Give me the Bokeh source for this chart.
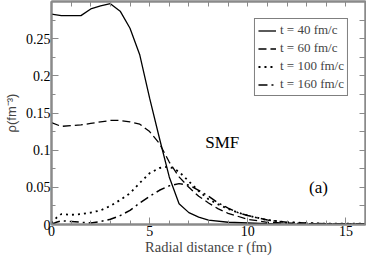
from bokeh.plotting import figure
from bokeh.models import LinearAxis, FixedTicker, Range1d, Label, Legend, LegendItem, CustomJSTickFormatter
from bokeh.embed import file_html
from bokeh.resources import INLINE

# ---- data ----
r40 = [0, 0.5, 1, 1.5, 2, 2.5, 3, 3.5, 4, 4.5, 5, 5.5, 6, 6.5, 7, 7.5, 8, 9, 10, 11, 12, 16]
rho40 = [0.283, 0.281, 0.281, 0.281, 0.290, 0.294, 0.297, 0.287, 0.264, 0.228, 0.170, 0.116,
         0.064, 0.028, 0.016, 0.010, 0.006, 0.003, 0.002, 0.001, 0.0, 0.0]

r60 = [0, 0.5, 1, 1.5, 2, 2.5, 3, 3.5, 4, 4.5, 5, 5.5, 6, 6.5, 7, 7.5, 8, 8.5, 9, 10, 11, 12, 13, 14, 16]
rho60 = [0.137, 0.132, 0.133, 0.134, 0.136, 0.138, 0.140, 0.140, 0.138, 0.135, 0.125, 0.109,
         0.084, 0.064, 0.050, 0.038, 0.029, 0.021, 0.015, 0.007, 0.003, 0.002, 0.001, 0.001, 0.0]

r100 = [0, 0.25, 0.5, 1, 1.5, 2, 2.5, 3, 3.5, 4, 4.5, 5, 5.5, 6, 6.5, 7, 7.5, 8, 8.5, 9, 9.5,
        10, 11, 12, 13, 14, 16]
rho100 = [0.002, 0.009, 0.014, 0.013, 0.014, 0.016, 0.019, 0.025, 0.033, 0.042, 0.056, 0.069,
          0.076, 0.078, 0.071, 0.058, 0.045, 0.034, 0.027, 0.021, 0.016, 0.012, 0.006, 0.003,
          0.002, 0.001, 0.001]

r160 = [0, 0.25, 0.5, 1, 1.5, 2, 2.5, 3, 3.5, 4, 4.5, 5, 5.5, 6, 6.5, 7, 7.5, 8, 8.5, 9, 9.5,
        10, 11, 12, 13, 14, 16]
rho160 = [0.0, 0.003, 0.005, 0.004, 0.003, 0.002, 0.004, 0.007, 0.012, 0.019, 0.029, 0.038,
          0.046, 0.052, 0.055, 0.053, 0.046, 0.038, 0.029, 0.022, 0.016, 0.012, 0.006, 0.003,
          0.002, 0.001, 0.001]

labels = ["t = 40 fm/c", "t = 60 fm/c", "t = 100 fm/c", "t = 160 fm/c"]
x_major = [0, 5, 10, 15]
x_minor = list(range(0, 17))
y_major = [0, 0.05, 0.1, 0.15, 0.2, 0.25]
y_major_labels = ["0", "0.05", "0.1", "0.15", "0.2", "0.25"]
y_minor = [i * 0.025 for i in range(0, 13)]

GRAY = "#8a8a8a"
SERIF = "Liberation Serif"

p = figure(width=366, height=257, output_backend="svg", toolbar_location=None,
           x_range=Range1d(0, 16), y_range=Range1d(0, 0.3),
           min_border_left=46, min_border_right=1, min_border_top=1, min_border_bottom=28)
p.grid.visible = False
p.background_fill_color = "white"
p.outline_line_color = GRAY
p.outline_line_width = 2

l1 = p.line(r40, rho40, line_color="black", line_width=1.3)
l2 = p.line(r60, rho60, line_color="black", line_width=1.3, line_dash="8 4")
l3 = p.line(r100, rho100, line_color="black", line_width=1.8, line_dash="2 4")
l4 = p.line(r160, rho160, line_color="black", line_width=1.5, line_dash="9 4 2 4")

def style_axis(ax, show_labels):
    ax.axis_line_color = GRAY
    ax.axis_line_width = 2
    ax.major_tick_line_color = GRAY
    ax.minor_tick_line_color = GRAY
    ax.major_tick_line_width = 1
    ax.minor_tick_line_width = 1
    ax.major_tick_in = 7
    ax.major_tick_out = 0
    ax.minor_tick_in = 4
    ax.minor_tick_out = 0
    if show_labels:
        ax.major_label_text_font = SERIF
        ax.major_label_text_font_size = "14px"
        ax.major_label_text_color = "black"
        ax.major_label_standoff = 1
    else:
        ax.formatter = CustomJSTickFormatter(code="return ''")
        ax.major_label_text_font_size = "1px"
        ax.major_label_standoff = 0

xt = FixedTicker(ticks=x_major, minor_ticks=x_minor)
yt = FixedTicker(ticks=y_major, minor_ticks=y_minor)

p.xaxis.ticker = xt
p.yaxis.ticker = yt
p.yaxis.major_label_overrides = {v: s for v, s in zip(y_major, y_major_labels)}
style_axis(p.xaxis[0], True)
style_axis(p.yaxis[0], True)
p.xaxis.axis_label = "Radial distance r (fm)"
p.xaxis.axis_label_text_font = SERIF
p.xaxis.axis_label_text_font_style = "normal"
p.xaxis.axis_label_text_font_size = "14.5px"
p.xaxis.axis_label_standoff = 0
p.yaxis.axis_label = "ρ(fm⁻³)"
p.yaxis.axis_label_text_font = "Liberation Sans"
p.yaxis.axis_label_text_font_style = "normal"
p.yaxis.axis_label_text_font_size = "13px"
p.yaxis.axis_label_standoff = 4

ax_top = LinearAxis(ticker=FixedTicker(ticks=x_minor, minor_ticks=[]))
style_axis(ax_top, False)
ax_top.major_tick_in = 5
p.add_layout(ax_top, "above")
ax_right = LinearAxis(ticker=FixedTicker(ticks=y_minor, minor_ticks=[]))
style_axis(ax_right, False)
ax_right.major_tick_in = 6
p.add_layout(ax_right, "right")

legend = Legend(items=[LegendItem(label=labels[0], renderers=[l1]),
                       LegendItem(label=labels[1], renderers=[l2]),
                       LegendItem(label=labels[2], renderers=[l3]),
                       LegendItem(label=labels[3], renderers=[l4])],
                location="top_right")
legend.label_text_font = SERIF
legend.label_text_font_size = "13px"
legend.label_height = 11
legend.glyph_height = 11
legend.glyph_width = 18
legend.spacing = 2
legend.padding = 3
legend.margin = 17
legend.label_standoff = 4
legend.border_line_color = "black"
legend.border_line_width = 1
legend.background_fill_alpha = 1
p.add_layout(legend)

p.add_layout(Label(x=8.7, y=0.11, text="SMF", text_font=SERIF, text_font_size="17px",
                   text_align="center", text_baseline="middle", text_color="black"))
p.add_layout(Label(x=13.6, y=0.05, text="(a)", text_font=SERIF, text_font_size="17px",
                   text_align="center", text_baseline="middle", text_color="black"))

open("out.html", "w").write(file_html(p, INLINE))
